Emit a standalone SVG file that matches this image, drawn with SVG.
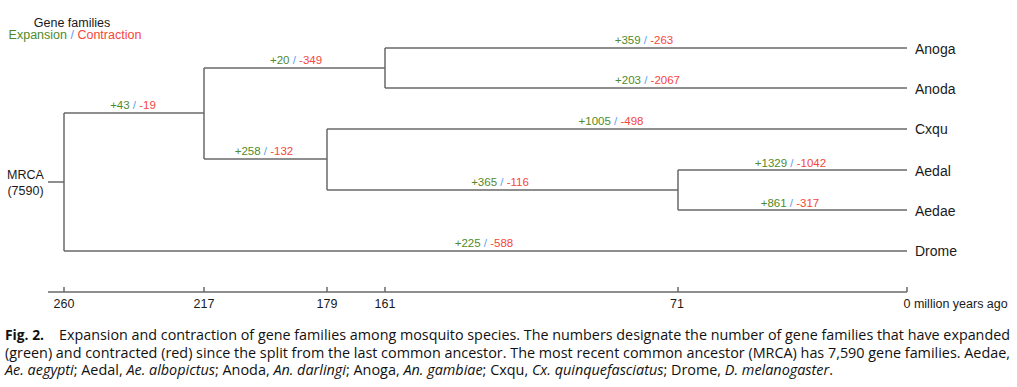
<svg xmlns="http://www.w3.org/2000/svg" width="1017" height="387" viewBox="0 0 1017 387">
<style>
.edge{fill:none;stroke:#6a6a6a;stroke-width:1.5}
.t{font-family:"Liberation Sans",Arial,sans-serif;fill:#1a1a1a}
.tip{font-size:14px}
.bl{font-family:"Liberation Sans",Arial,sans-serif;font-size:11.5px;text-anchor:middle}
.g{fill:#4f8a2b}
.r{fill:#f4473b}
.b{fill:#5b9ef0}
.tick{font-size:12.5px;text-anchor:middle}
.cap{font-family:"Open Sans","Liberation Sans",sans-serif;font-size:14px;fill:#111}
.it{font-style:italic}
</style>
<rect width="1017" height="387" fill="#fff"/>
<g id="legend">
<text class="t" x="72" y="26.5" font-size="12.5" text-anchor="middle">Gene families</text>
<text class="t" x="75" y="38.5" font-size="12.5" text-anchor="middle"><tspan class="g">Expansion</tspan> <tspan class="b">/</tspan> <tspan class="r">Contraction</tspan></text>
</g>
<g id="connectors">
<path class="edge" d="M48,182H64M64,113V251M64,113H204M204,68V159M204,68H385M385,48V88M385,48H907M385,88H907M204,159H327M327,129V190M327,129H907M327,190H678M678,170V210M678,170H907M678,210H907M64,251H907"/>
</g>
<g id="branch-labels">
<text class="bl" x="133" y="108.5"><tspan class="g">+43</tspan> <tspan class="b">/</tspan> <tspan class="r">-19</tspan></text>
<text class="bl" x="296" y="63.5"><tspan class="g">+20</tspan> <tspan class="b">/</tspan> <tspan class="r">-349</tspan></text>
<text class="bl" x="644" y="43.5"><tspan class="g">+359</tspan> <tspan class="b">/</tspan> <tspan class="r">-263</tspan></text>
<text class="bl" x="647.5" y="84"><tspan class="g">+203</tspan> <tspan class="b">/</tspan> <tspan class="r">-2067</tspan></text>
<text class="bl" x="611" y="124.5"><tspan class="g">+1005</tspan> <tspan class="b">/</tspan> <tspan class="r">-498</tspan></text>
<text class="bl" x="264" y="155"><tspan class="g">+258</tspan> <tspan class="b">/</tspan> <tspan class="r">-132</tspan></text>
<text class="bl" x="500" y="186"><tspan class="g">+365</tspan> <tspan class="b">/</tspan> <tspan class="r">-116</tspan></text>
<text class="bl" x="790.5" y="166.5"><tspan class="g">+1329</tspan> <tspan class="b">/</tspan> <tspan class="r">-1042</tspan></text>
<text class="bl" x="790" y="206.5"><tspan class="g">+861</tspan> <tspan class="b">/</tspan> <tspan class="r">-317</tspan></text>
<text class="bl" x="484" y="247"><tspan class="g">+225</tspan> <tspan class="b">/</tspan> <tspan class="r">-588</tspan></text>
</g>
<g id="node-mrca">
<text class="t" x="25.5" y="179" font-size="12.5" text-anchor="middle">MRCA</text>
<text class="t" x="25.5" y="195" font-size="12.5" text-anchor="middle">(7590)</text>
</g>
<g id="node-anoga"><text class="t tip" x="915" y="53.5">Anoga</text></g>
<g id="node-anoda"><text class="t tip" x="915" y="93.5">Anoda</text></g>
<g id="node-cxqu"><text class="t tip" x="915" y="134">Cxqu</text></g>
<g id="node-aedal"><text class="t tip" x="915" y="175.5">Aedal</text></g>
<g id="node-aedae"><text class="t tip" x="915" y="215.5">Aedae</text></g>
<g id="node-drome"><text class="t tip" x="915" y="256">Drome</text></g>
<g id="axis">
<path class="edge" d="M48,292H907M64,287V292M204,287V292M327,287V292M385,287V292M678,287V292M907,287V292"/>
<text class="t tick" x="64" y="307.5">260</text>
<text class="t tick" x="204" y="307.5">217</text>
<text class="t tick" x="327" y="307.5">179</text>
<text class="t tick" x="385" y="307.5">161</text>
<text class="t tick" x="677" y="307.5">71</text>
<text class="t" x="903.5" y="307.5" font-size="12.5">0 million years ago</text>
</g>
<g id="caption">
<text class="cap" x="5" y="340" font-weight="bold" textLength="39" lengthAdjust="spacingAndGlyphs">Fig. 2.</text>
<text class="cap" x="59" y="340" textLength="951" lengthAdjust="spacingAndGlyphs">Expansion and contraction of gene families among mosquito species. The numbers designate the number of gene families that have expanded</text>
<text class="cap" x="5" y="357.5" textLength="1005" lengthAdjust="spacingAndGlyphs">(green) and contracted (red) since the split from the last common ancestor. The most recent common ancestor (MRCA) has 7,590 gene families. Aedae,</text>
<text class="cap" x="5" y="374.5" textLength="828" lengthAdjust="spacingAndGlyphs"><tspan class="it">Ae. aegypti</tspan>; Aedal, <tspan class="it">Ae. albopictus</tspan>; Anoda, <tspan class="it">An. darlingi</tspan>; Anoga, <tspan class="it">An. gambiae</tspan>; Cxqu, <tspan class="it">Cx. quinquefasciatus</tspan>; Drome, <tspan class="it">D. melanogaster</tspan>.</text>
</g>
</svg>
